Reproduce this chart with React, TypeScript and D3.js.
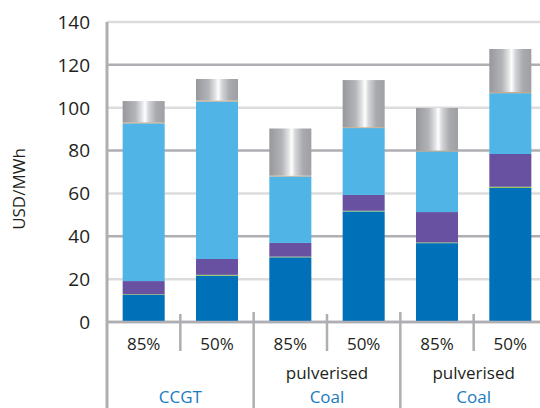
import React from "react";
import * as d3 from "d3";

// bars (capacity factor) and their groups
const bars = ["85%", "50%", "85%", "50%", "85%", "50%"];
const groupTop = ["", "pulverised", "pulverised"];
const groupName = ["CCGT", "Coal", "Coal"];

// stacked components, USD/MWh
const investment = [12.6, 21.6, 30.2, 51.6, 36.8, 62.6];
const greenPart = [0.3, 0.4, 0.3, 0.3, 0.3, 0.5];
const omCost = [6.2, 7.4, 6.4, 7.4, 14.2, 15.3];
const fuelCost = [73.6, 73.5, 31.0, 31.2, 28.3, 28.4];
const tanPart = [0.5, 0.5, 0.4, 0.4, 0.4, 0.5];
const carbonCost = [9.9, 10.0, 22.0, 22.0, 19.9, 20.1];

const yTicks = [0, 20, 40, 60, 80, 100, 120, 140];

const seriesNames = ["investment", "green", "om", "fuel", "tan", "carbon"];
const seriesValues = [investment, greenPart, omCost, fuelCost, tanPart, carbonCost];
const seriesFill = ["#0070b8", "#8dc63f", "#6951a1", "#50b5e6", "#c9a27a", "url(#metal)"];

const W = 540;
const H = 408;
const left = 107;
const top = 22;
const bottom = 322;

const App: React.FC = () => {
  const keys = bars.map((_, i) => `b${i}`);
  const x = d3
    .scaleBand<string>()
    .domain(keys)
    .range([left, left + 440])
    .paddingInner(0.427)
    .paddingOuter(0.2135);
  const y = d3.scaleLinear().domain([0, 140]).range([bottom, top]);

  const rows = keys.map((k, i) => {
    const r: any = { key: k };
    seriesNames.forEach((s, j) => (r[s] = seriesValues[j][i]));
    return r;
  });
  const stacked = d3.stack<any>().keys(seriesNames)(rows);

  const step = x.step();
  const half = (i: number) => (x(keys[i]) as number) + x.bandwidth() + (step - x.bandwidth()) / 2;

  const font = "'Open Sans', 'Liberation Sans', sans-serif";

  return (
    <svg
      width={W}
      height={H}
      style={{ position: "absolute", left: 0, top: 0, background: "#fff" }}
      fontFamily={font}
    >
      <defs>
        <linearGradient id="metal" x1="0" y1="0" x2="1" y2="0">
          <stop offset="0" stopColor="#97989c" />
          <stop offset="0.3" stopColor="#b3b4b8" />
          <stop offset="0.47" stopColor="#e6e6e8" />
          <stop offset="0.53" stopColor="#ffffff" />
          <stop offset="0.62" stopColor="#d4d5d8" />
          <stop offset="0.8" stopColor="#a9aaae" />
          <stop offset="1" stopColor="#9fa0a4" />
        </linearGradient>
      </defs>

      {/* gridlines */}
      {yTicks.map((t, i) => (
        <line
          key={t}
          x1={left}
          x2={W}
          y1={y(t)}
          y2={y(t)}
          stroke={i % 2 === 0 ? "#aeaeb3" : "#dcdcde"}
          strokeWidth={2.5}
        />
      ))}

      {/* bars */}
      {stacked.map((s, j) =>
        s.map((d, i) => (
          <rect
            key={`${j}-${i}`}
            x={x(keys[i])}
            width={x.bandwidth()}
            y={y(d[1])}
            height={Math.max(0, y(d[0]) - y(d[1]))}
            fill={seriesFill[j]}
          />
        ))
      )}

      {/* axes */}
      <line x1={left} x2={left} y1={top} y2={H} stroke="#aeaeb3" strokeWidth={3} />
      <line x1={left} x2={W} y1={bottom} y2={bottom} stroke="#aeaeb3" strokeWidth={2.5} />
      {[0, 2, 4].map((i) => (
        <line key={`m${i}`} x1={half(i)} x2={half(i)} y1={314} y2={351} stroke="#aeaeb3" strokeWidth={2.5} />
      ))}
      {[1, 3].map((i) => (
        <line key={`M${i}`} x1={half(i)} x2={half(i)} y1={312} y2={H} stroke="#aeaeb3" strokeWidth={2.5} />
      ))}

      {/* y tick labels */}
      {yTicks.map((t) => (
        <text
          key={`t${t}`}
          x={90}
          y={y(t)}
          dy="0.36em"
          textAnchor="end"
          fontSize={19}
          fill="#231f20"
        >
          {t}
        </text>
      ))}

      <text
        transform={`translate(25,189) rotate(-90)`}
        textAnchor="middle"
        fontSize={17}
        fill="#231f20"
      >
        USD/MWh
      </text>

      {/* category labels */}
      {bars.map((b, i) => (
        <text
          key={`c${i}`}
          x={(x(keys[i]) as number) + x.bandwidth() / 2}
          y={344}
          dy="0.36em"
          textAnchor="middle"
          fontSize={17}
          fill="#231f20"
        >
          {b}
        </text>
      ))}
      {groupName.map((g, gi) => {
        const cx = (half(gi * 2 - 1 < 0 ? 0 : gi * 2 - 1) + half(gi * 2 + 1)) / 2;
        const center = gi === 0 ? (left + half(1)) / 2 : cx;
        return (
          <g key={`g${gi}`}>
            {groupTop[gi] && (
              <text x={center} y={373} dy="0.36em" textAnchor="middle" fontSize={17} fill="#231f20">
                {groupTop[gi]}
              </text>
            )}
            <text x={center} y={397} dy="0.36em" textAnchor="middle" fontSize={17} fill="#1a7bc0">
              {g}
            </text>
          </g>
        );
      })}
    </svg>
  );
};

export default App;
